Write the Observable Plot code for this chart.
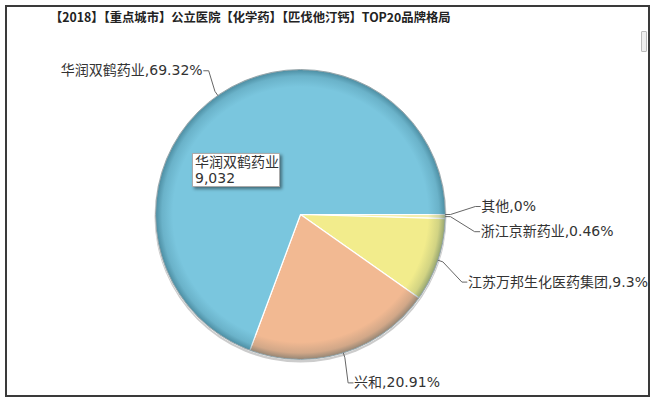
<!DOCTYPE html>
<html>
<head>
<meta charset="utf-8">
<script src="https://cdn.jsdelivr.net/npm/d3@7"></script>
<script src="https://cdn.jsdelivr.net/npm/@observablehq/plot@0.6"></script>
<style>
  html, body { margin: 0; padding: 0; background: #fff; }
  #wrap { position: relative; width: 654px; height: 402px; overflow: hidden; background: #fff; }
  #frame { position: absolute; left: 5px; top: 5px; width: 641px; height: 388px; border: 2px solid #3a3a3a; }
  #title { position: absolute; left: 50px; top: 8px; font: bold 12.3px "Noto Sans CJK SC", sans-serif; color: #222; white-space: nowrap; }
  #chart { position: absolute; left: 0; top: 0; }
  #tip { position: absolute; left: 192px; top: 153px; width: 84px; height: 32px; background: #fff; border: 1px solid #aaa;
         box-shadow: 2px 2px 3px rgba(0,0,0,0.45); font: 14px "DejaVu Sans", "Noto Sans CJK SC", sans-serif; color: #333; line-height: 16px; padding: 0 0 0 2px; white-space: nowrap; }
  #scroll { position: absolute; left: 641px; top: 31px; width: 4px; height: 19px; border: 1px solid #bbb; background: #eee; border-radius: 1px; }
</style>
</head>
<body>
<div id="wrap">
  <div id="chart"></div>
  <div id="frame"></div>
  <div id="title"></div>
  <div id="scroll"></div>
  <div id="tip"></div>
</div>
<script>
// ---- data ----
const titleText = "【2018】【重点城市】公立医院【化学药】【匹伐他汀钙】TOP20品牌格局";
const names  = ["其他", "浙江京新药业", "江苏万邦生化医药集团", "兴和", "华润双鹤药业"];
const values = [0, 60, 1212, 2725, 9032];
const colors = ["#f4f0b8", "#f4efb0", "#f2ec8c", "#f2b992", "#7ac6de"];
const tooltipName = "华润双鹤药业";

// ---- layout constants ----
const W = 654, H = 402;
const CX = 300, CY = 214;  // pie centre in page pixels
const R = 145, DIST = 30, SLOT = 25.2, SLOT_OFFSET = -8;

document.getElementById("title").textContent = titleText;

const total = d3.sum(values);
let acc = 0;
const slices = names.map((name, i) => {
  const a0 = acc / total * 2 * Math.PI;
  acc += values[i];
  const a1 = acc / total * 2 * Math.PI;
  return {name, value: values[i], color: colors[i], a0, a1, mid: (a0 + a1) / 2, pct: values[i] / total};
});

// tooltip
const tipSlice = slices.find(s => s.name === tooltipName);
document.getElementById("tip").innerHTML = tipSlice.name + "<br>" + d3.format(",")(tipSlice.value);

// slice polygons (geometry of the arcs)
function arcPoints(s) {
  const pts = [{x: 0, y: 0}];
  const n = Math.max(1, Math.ceil((s.a1 - s.a0) / (Math.PI / 360)));
  for (let k = 0; k <= n; k++) {
    const a = s.a0 + (s.a1 - s.a0) * k / n;
    pts.push({x: R * Math.cos(a), y: R * Math.sin(a)});
  }
  pts.push({x: 0, y: 0});
  return pts;
}

// label layout with slots (Highcharts-like)
const fmt = d3.format(".2~f");
const labels = slices.map(s => ({
  s, side: Math.cos(s.mid) >= 0 ? 1 : -1,
  ny: (R + DIST) * Math.sin(s.mid),
  text: s.name + "," + fmt(s.pct * 100) + "%"
}));
for (const side of [1, -1]) {
  const group = labels.filter(l => l.side === side).sort((a, b) => a.ny - b.ny);
  if (group.length <= 1) { group.forEach(l => l.y = l.ny); continue; }
  let prev = -Infinity;
  for (const l of group) {
    let k = Math.round((l.ny - SLOT_OFFSET) / SLOT);
    let y = SLOT_OFFSET + k * SLOT;
    while (y <= prev + 0.01) { k++; y = SLOT_OFFSET + k * SLOT; }
    l.y = y; prev = y;
  }
}
for (const l of labels) {
  const rr = R + DIST;
  l.ax = l.side * Math.sqrt(Math.max(0, rr * rr - l.y * l.y));
  if (l.side < 0) l.ax += 8;
  l.tx = l.ax + l.side * 6;
  l.conn = [
    {x: R * Math.cos(l.s.mid), y: R * Math.sin(l.s.mid)},
    {x: (R + 5) * Math.cos(l.s.mid), y: (R + 5) * Math.sin(l.s.mid)},
    {x: l.ax, y: l.y},
    {x: l.ax + l.side * 5, y: l.y}
  ];
}

function defsMark() {
  const defs = document.createElementNS("http://www.w3.org/2000/svg", "defs");
  defs.innerHTML = `
    <radialGradient id="rim" cx="50%" cy="50%" r="50%">
      <stop offset="0.88" stop-color="#0a3a4a" stop-opacity="0"/>
      <stop offset="0.955" stop-color="#0a3a4a" stop-opacity="0.14"/>
      <stop offset="0.985" stop-color="#0a3a4a" stop-opacity="0.32"/>
      <stop offset="1" stop-color="#0a3a4a" stop-opacity="0.42"/>
    </radialGradient>`;
  return defs;
}

const font = "DejaVu Sans, Noto Sans CJK SC, sans-serif";
const rightLabels = labels.filter(l => l.side > 0);
const leftLabels = labels.filter(l => l.side < 0);

const plot = Plot.plot({
  width: W, height: H, margin: 0,
  x: {domain: [-CX, W - CX], range: [0, W], axis: null},
  y: {domain: [-CY, H - CY], range: [0, H], axis: null},
  style: {background: "transparent", fontFamily: font},
  marks: [
    defsMark,
    Plot.dot([0], {x: () => 0, y: () => 0, r: R + 1, fill: "#6d6d6d", fillOpacity: 0.35, dy: 2}),
    ...slices.map(s => Plot.line(arcPoints(s), {x: "x", y: "y", fill: s.color, stroke: "#ffffff", strokeWidth: 1.2, strokeLinejoin: "round"})),
    Plot.dot([0], {x: () => 0, y: () => 0, r: R, fill: "url(#rim)", stroke: "#8a9aa0", strokeWidth: 0.8}),
    ...labels.map(l => Plot.line(l.conn, {x: "x", y: "y", stroke: "#666", strokeWidth: 1})),
    Plot.text(rightLabels, {x: "tx", y: "y", text: "text", textAnchor: "start",
      fill: "#333", fontSize: 14, fontFamily: font, lineAnchor: "middle"}),
    Plot.text(leftLabels, {x: "tx", y: "y", text: "text", textAnchor: "end",
      fill: "#333", fontSize: 14, fontFamily: font, lineAnchor: "middle"})
  ]
});
document.getElementById("chart").appendChild(plot);
</script>
</body>
</html>
